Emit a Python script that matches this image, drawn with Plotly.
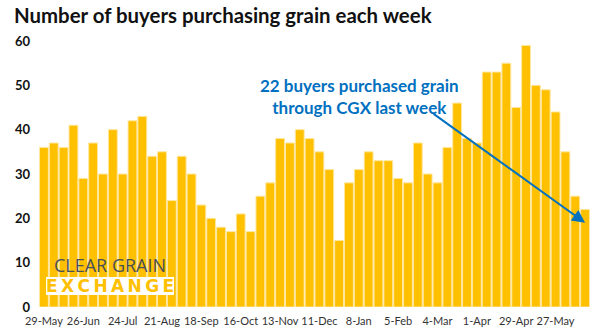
import plotly.graph_objects as go

buyers = [36, 37, 36, 41, 29, 37, 30, 40, 30, 42, 43, 34, 35, 24, 34, 30, 23, 20, 18, 17,
          21, 17, 25, 28, 38, 37, 40, 38, 35, 31, 15, 28, 31, 35, 33, 33, 29, 28, 37, 30,
          28, 36, 46, 38, 37, 53, 53, 55, 45, 59, 50, 49, 44, 35, 25, 22]
tick_labels = ["29-May", "26-Jun", "24-Jul", "21-Aug", "18-Sep", "16-Oct", "13-Nov",
               "11-Dec", "8-Jan", "5-Feb", "4-Mar", "1-Apr", "29-Apr", "27-May"]
tick_every = 4
title = "Number of buyers purchasing grain each week"
note = "22 buyers purchased grain<br>through CGX last week"

x = list(range(len(buyers)))
tickvals = [i * tick_every for i in range(len(tick_labels))]

fig = go.Figure()
fig.add_trace(go.Bar(
    x=x, y=buyers,
    marker=dict(color="#FFC000", line=dict(color="#FFE7A0", width=1)),
    hoverinfo="y",
))

fig.update_layout(
    width=602, height=335,
    margin=dict(l=39, r=12, t=41, b=28),
    paper_bgcolor="white", plot_bgcolor="white",
    bargap=0.1,
    showlegend=False,
    font=dict(family="Lato", color="#222"),
    xaxis=dict(range=[-0.5, len(buyers) - 0.5], tickmode="array", tickvals=tickvals,
               ticktext=tick_labels, showgrid=False, zeroline=False, showline=False,
               ticks="", tickfont=dict(family="Lato", size=11, color="#333"), tickangle=0,
               ticklabelstandoff=6, automargin=False),
    yaxis=dict(range=[0, 60], dtick=10, showgrid=False, zeroline=False, showline=False,
               ticks="", tickfont=dict(family="Lato", size=13, color="#111", weight="bold"),
               ticklabelstandoff=8, automargin=False),
)

fig.add_annotation(text="<b>" + title + "</b>", xref="paper", yref="paper",
                   x=-27/551, y=1 + 26/266, xanchor="left", yanchor="middle",
                   showarrow=False, font=dict(family="Lato", size=20.4, color="#111"))

fig.add_annotation(text="<b>" + note + "</b>", xref="paper", yref="paper",
                   x=(359-39)/551, y=(307-96)/266, xanchor="center", yanchor="middle",
                   showarrow=False, align="center",
                   font=dict(family="Lato", size=17, color="#0070C0"))

fig.add_annotation(x=len(buyers) - 1, y=19, xref="x", yref="y",
                   ax=-153, ay=-110, showarrow=True, text="",
                   arrowhead=2, arrowsize=1.3, arrowwidth=2, arrowcolor="#0070C0")

# logo
fig.add_shape(type="rect", xref="paper", yref="paper",
              x0=(46-39)/551, x1=(174-39)/551, y0=(307-295)/266, y1=(307-277)/266,
              fillcolor="white", line=dict(width=0), layer="above")
fig.add_annotation(text="CLEAR GRAIN", xref="paper", yref="paper",
                   x=(110-39)/551, y=(307-265)/266, xanchor="center", yanchor="middle",
                   showarrow=False, font=dict(family="Open Sans", size=18, color="#4A4F57"))
fig.add_annotation(text="\u2009".join("EXCHANGE"), xref="paper", yref="paper",
                   x=(110-39)/551, y=(307-286)/266, xanchor="center", yanchor="middle",
                   showarrow=False,
                   font=dict(family="DejaVu Sans", size=17, color="#FFC000", weight="bold"))

fig.write_html("out.html")
